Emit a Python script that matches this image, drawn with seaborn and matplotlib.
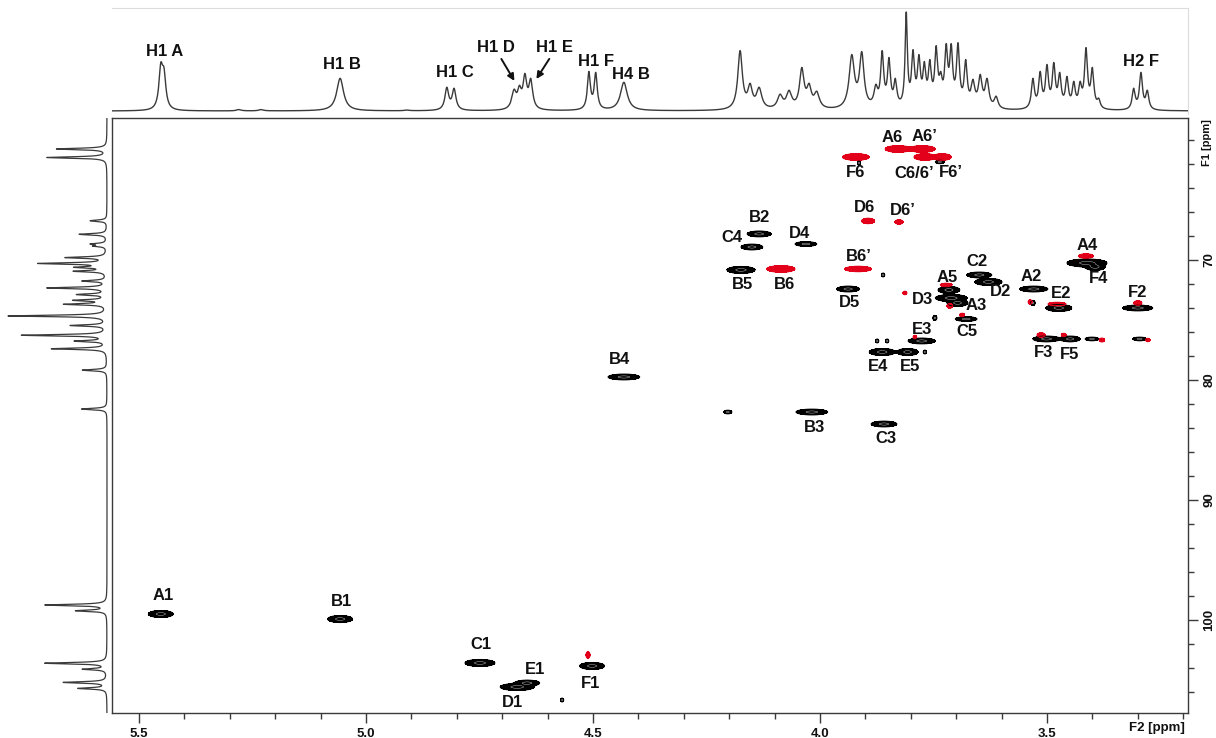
import numpy as np
import pandas as pd
import matplotlib
matplotlib.use("Agg")
import matplotlib.pyplot as plt
from matplotlib.ticker import MultipleLocator, FixedLocator
import seaborn as sns

# ---------------- 2D HSQC cross peaks ----------------
# name ("" = unlabelled), 1H shift, 13C shift, 1H extent, 13C extent, phase (+1 black CH, -1 red CH2)
peak_name = ["A6", "A6’", "F6", "C6/6’", "F6’", "D6", "D6’", "B6’", "B6",
             "", "", "", "", "", "", "", "", "", "", "", "", "", "",
             "A1", "B1", "C1", "E1", "D1", "F1", "B4", "B3", "", "C3", "C4", "B2", "D4", "B5",
             "D5", "C2", "D2", "A5", "D3", "A3", "C5", "A2", "E2", "A4", "F4", "F2", "F3", "F5",
             "", "", "E3", "E4", "E5", "", "", "", "", "", "", "", "", ""]
peak_h = [3.828, 3.775, 3.921, 3.769, 3.731, 3.894, 3.826, 3.916, 4.086,
          3.300, 3.478, 3.414, 3.513, 3.463, 3.379, 3.278, 3.714, 3.722, 3.813, 3.687, 4.511, 3.537, 3.791,
          5.452, 5.057, 4.749, 4.645, 4.667, 4.502, 4.432, 4.018, 4.203, 3.859, 4.150, 4.134, 4.031, 4.174,
          3.938, 3.649, 3.629, 3.716, 3.711, 3.697, 3.678, 3.529, 3.474, 3.412, 3.394, 3.300, 3.501, 3.449,
          3.401, 3.296, 3.776, 3.863, 3.807, 3.861, 3.747, 3.874, 3.852, 3.769, 4.568, 3.531, 3.914, 3.736]
peak_c = [60.75, 60.75, 61.42, 61.42, 61.42, 66.75, 66.83, 70.75, 70.75,
          73.58, 73.67, 69.67, 76.25, 76.25, 76.67, 76.67, 73.83, 72.08, 72.75, 74.58, 102.92, 73.50, 76.42,
          99.50, 99.92, 103.58, 105.25, 105.58, 103.83, 79.75, 82.67, 82.67, 83.67, 68.92, 67.83, 68.67, 70.83,
          72.42, 71.25, 71.83, 72.50, 73.17, 73.58, 74.92, 72.42, 74.00, 70.25, 70.58, 74.00, 76.58, 76.58,
          76.58, 76.58, 76.75, 77.67, 77.67, 71.25, 74.83, 76.75, 76.75, 77.67, 106.67, 73.58, 61.92, 61.83]
peak_wh = [0.057, 0.057, 0.059, 0.048, 0.040, 0.029, 0.018, 0.059, 0.062,
           0.018, 0.040, 0.033, 0.018, 0.011, 0.012, 0.010, 0.013, 0.026, 0.009, 0.011, 0.009, 0.009, 0.008,
           0.055, 0.055, 0.066, 0.055, 0.075, 0.055, 0.070, 0.070, 0.018, 0.057, 0.048, 0.053, 0.048, 0.062,
           0.050, 0.055, 0.060, 0.048, 0.070, 0.046, 0.048, 0.062, 0.057, 0.088, 0.044, 0.066, 0.060, 0.044,
           0.030, 0.030, 0.060, 0.057, 0.046, 0.007, 0.009, 0.007, 0.007, 0.007, 0.007, 0.010, 0.006, 0.020]
peak_wc = [0.55, 0.55, 0.55, 0.55, 0.55, 0.45, 0.36, 0.45, 0.55,
           0.36, 0.28, 0.36, 0.36, 0.28, 0.32, 0.28, 0.36, 0.28, 0.28, 0.28, 0.55, 0.36, 0.28,
           0.58, 0.58, 0.58, 0.48, 0.58, 0.58, 0.48, 0.48, 0.30, 0.48, 0.48, 0.48, 0.38, 0.58,
           0.48, 0.48, 0.58, 0.58, 0.58, 0.58, 0.38, 0.48, 0.58, 0.66, 0.58, 0.48, 0.48, 0.48,
           0.30, 0.30, 0.48, 0.58, 0.58, 0.32, 0.42, 0.32, 0.32, 0.32, 0.32, 0.42, 0.42, 0.28]
peak_phase = [-1] * 23 + [1] * 42

# ---------------- 1H projection (top) ----------------
h1_ppm = [5.452, 5.445, 5.280, 5.231, 5.057, 4.910, 4.822, 4.806, 4.674, 4.662, 4.650, 4.637,
          4.509, 4.494, 4.432, 4.176, 4.154, 4.134, 4.088, 4.068, 4.040, 4.024, 4.007,
          3.930, 3.908, 3.877, 3.863, 3.848, 3.834, 3.810, 3.795, 3.782, 3.770, 3.758, 3.744,
          3.734, 3.722, 3.711, 3.696, 3.679, 3.663, 3.647, 3.632, 3.612, 3.531, 3.515, 3.500,
          3.485, 3.472, 3.456, 3.441, 3.427, 3.414, 3.400, 3.386, 3.309, 3.293, 3.279]
h1_height = [0.49, 0.44, 0.015, 0.015, 0.33, 0.01, 0.24, 0.23, 0.22, 0.26, 0.38, 0.33,
             0.40, 0.39, 0.29, 0.61, 0.28, 0.24, 0.17, 0.21, 0.44, 0.28, 0.20,
             0.57, 0.60, 0.27, 0.61, 0.54, 0.33, 1.00, 0.62, 0.57, 0.50, 0.52, 0.66,
             0.40, 0.68, 0.68, 0.69, 0.52, 0.32, 0.37, 0.33, 0.15, 0.33, 0.40, 0.47,
             0.49, 0.39, 0.35, 0.30, 0.30, 0.64, 0.44, 0.13, 0.23, 0.39, 0.21]
h1_hwhm = [0.005, 0.005, 0.006, 0.006, 0.009, 0.006, 0.005, 0.005, 0.006, 0.005, 0.005, 0.005,
           0.004, 0.004, 0.009, 0.006, 0.006, 0.007, 0.007, 0.007, 0.006, 0.006, 0.007,
           0.007, 0.006, 0.005, 0.004, 0.004, 0.004, 0.003, 0.004, 0.004, 0.004, 0.004, 0.004,
           0.004, 0.004, 0.004, 0.004, 0.004, 0.005, 0.005, 0.005, 0.005, 0.004, 0.004, 0.004,
           0.004, 0.004, 0.004, 0.004, 0.004, 0.004, 0.004, 0.004, 0.004, 0.004, 0.004]

# ---------------- 13C projection (left) ----------------
c13_ppm = [60.75, 61.46, 66.73, 67.86, 68.67, 68.84, 69.80, 70.29, 70.61, 70.94, 71.75, 72.33,
           72.88, 73.36, 73.69, 74.66, 75.46, 76.27, 76.76, 77.40, 79.18, 82.42,
           98.75, 99.23, 103.60, 104.10, 105.20, 105.70]
c13_height = [0.51, 0.61, 0.17, 0.28, 0.15, 0.12, 0.41, 0.68, 0.29, 0.32, 0.24, 0.60,
              0.29, 0.32, 0.42, 1.00, 0.36, 0.86, 0.31, 0.56, 0.25, 0.26,
              0.63, 0.31, 0.63, 0.24, 0.44, 0.29]

top_labels = ["H1 A", "H1 B", "H1 C", "H1 D", "H1 E", "H1 F", "H4 B", "H2 F"]

# ---------------- layout (annotation offsets in pixels) ----------------
label_offset = {
    "A6": (-6, 11), "A6’": (2, 12), "F6": (0, -15), "C6/6’": (-11, -16), "F6’": (9, -15),
    "D6": (-4, 13), "D6’": (4, 11), "B6’": (1, 12), "B6": (4, -16), "B5": (1, -15),
    "C4": (-20, 10), "B2": (0, 16), "D4": (-6, 11), "D5": (1, -13), "C2": (-2, 13),
    "D2": (12, -10), "A5": (-2, 12), "D3": (-29, -1), "A3": (19, -3), "C5": (1, -12),
    "A2": (-3, 13), "E2": (2, 14), "A4": (0, 17), "F4": (3, -12), "F2": (0, 15),
    "F3": (-3, -14), "F5": (-1, -16), "E3": (0, 11), "E4": (-4, -14), "E5": (2, -14),
    "C3": (2, -14), "B3": (3, -15), "B4": (-4, 17), "A1": (2, 18), "B1": (1, 18),
    "C1": (1, 18), "E1": (8, 13), "D1": (-5, -16), "F1": (-2, -18),
}
top_label_pos = {  # (ppm, relative intensity)
    "H1 A": (5.443, 0.60), "H1 B": (5.053, 0.47), "H1 C": (4.804, 0.39), "H1 D": (4.714, 0.64),
    "H1 E": (4.584, 0.64), "H1 F": (4.493, 0.50), "H4 B": (4.416, 0.37), "H2 F": (3.293, 0.50),
}

XL = (5.5595, 3.1894)
YL = (107.75, 58.17)
BLACK = "#000000"
RED = "#e3001b"
LINE = "#3a3a3a"

sns.set_style("white")
plt.rcParams["font.family"] = ["Liberation Sans", "DejaVu Sans"]

W, H = 1216, 738
fig = plt.figure(figsize=(W / 100, H / 100), dpi=100)


def frame(x0, y0, x1, y1):
    return [x0 / W, 1 - y1 / H, (x1 - x0) / W, (y1 - y0) / H]


ax = fig.add_axes(frame(112, 118, 1188, 713))
axt = fig.add_axes(frame(112, 8, 1188, 114))
axl = fig.add_axes(frame(5, 118, 109, 713))

# ---------------- 2D contours ----------------
gx = np.linspace(3.17, 5.57, 2400)
gy = np.linspace(57.5, 108.5, 1100)
Zp = np.zeros((gy.size, gx.size))
Zn = np.zeros((gy.size, gx.size))
thr = 0.08
k = np.sqrt(2 * np.log(1 / thr))
for h, c, wh, wc, ph in zip(peak_h, peak_c, peak_wh, peak_wc, peak_phase):
    sx = wh / 2 / k
    sy = wc / 2 / k
    g = np.outer(np.exp(-0.5 * ((gy - c) / sy) ** 2), np.exp(-0.5 * ((gx - h) / sx) ** 2))
    if ph > 0:
        Zp += g
    else:
        Zn += g

ax.contourf(gx, gy, Zp, levels=[thr, 1e3], colors=[BLACK])
ax.contour(gx, gy, Zp, levels=[thr], colors=[BLACK], linewidths=0.7)
ax.contour(gx, gy, Zp, levels=[0.7], colors=["white"], linewidths=0.25)
ax.contourf(gx, gy, Zn, levels=[thr, 1e3], colors=[RED])
ax.contour(gx, gy, Zn, levels=[thr], colors=[RED], linewidths=0.7)

for name, h, c in zip(peak_name, peak_h, peak_c):
    if name and name in label_offset:
        dx, dy = label_offset[name]
        ax.annotate(name, (h, c), xytext=(dx, dy), textcoords="offset pixels",
                    ha="center", va="center", fontsize=12, fontweight="bold", color="#111111")

ax.set_xlim(*XL)
ax.set_ylim(*YL)
ax.xaxis.set_major_locator(FixedLocator([5.5, 5.0, 4.5, 4.0, 3.5]))
ax.xaxis.set_minor_locator(MultipleLocator(0.1))
ax.set_xticklabels(["5.5", "5.0", "4.5", "4.0", "3.5"], fontsize=9.5, fontweight="bold")
ax.yaxis.tick_right()
ax.yaxis.set_major_locator(FixedLocator([70, 80, 90, 100]))
ax.yaxis.set_minor_locator(MultipleLocator(2))
ax.set_yticklabels(["70", "80", "90", "100"], rotation=90, va="center",
                   fontsize=9.5, fontweight="bold")
ax.tick_params(axis="both", which="major", direction="out", length=7, width=1.0,
               color=LINE, pad=4, labelcolor="#111111")
ax.tick_params(axis="both", which="minor", direction="out", length=4, width=1.0, color=LINE)
ax.tick_params(axis="y", which="both", left=False, right=True, labelleft=False, labelright=True)
ax.tick_params(axis="x", which="both", bottom=True, top=False)
for s in ax.spines.values():
    s.set_color(LINE)
    s.set_linewidth(1.0)

fig.text(1157 / W, 1 - 728 / H, "F2 [ppm]", ha="center", va="center",
         fontsize=9.5, fontweight="bold", color="#111111")
fig.text(1207 / W, 1 - 143 / H, "F1 [ppm]", ha="center", va="center", rotation=90,
         fontsize=8, fontweight="bold", color="#111111")

# ---------------- 1H projection ----------------
hx = np.linspace(XL[1], XL[0], 9000)
c1 = np.array(h1_ppm)
w1 = np.array(h1_hwhm)
t1 = np.array(h1_height)
A = 1.0 / (1.0 + ((c1[:, None] - c1[None, :]) / w1[None, :]) ** 2)
amp = t1.copy()
for _ in range(400):
    amp = np.clip(amp + 0.5 * (t1 - A @ amp), 0, None)
trace_h = (amp[None, :] / (1.0 + ((hx[:, None] - c1[None, :]) / w1[None, :]) ** 2)).sum(axis=1)
trace_h /= trace_h.max()
df_h = pd.DataFrame({"ppm": hx, "intensity": trace_h})
sns.lineplot(data=df_h, x="ppm", y="intensity", ax=axt, color=LINE, linewidth=1.0,
             estimator=None, sort=False)
axt.set_xlim(*XL)
axt.set_ylim(-0.03, 1.04)
axt.set_xticks([])
axt.set_yticks([])
axt.set_xlabel("")
axt.set_ylabel("")
for side in ["left", "bottom"]:
    axt.spines[side].set_visible(False)
for side in ["top", "right"]:
    axt.spines[side].set_color("#dcdcdc")
    axt.spines[side].set_linewidth(0.8)
for lab in top_labels:
    px, py = top_label_pos[lab]
    axt.text(px, py, lab, ha="center", va="center", fontsize=12, fontweight="bold", color="#111111")
axt.annotate("", xy=(4.670, 0.28), xytext=(4.705, 0.55),
             arrowprops=dict(arrowstyle="-|>", color="#111111", lw=1.4, mutation_scale=10))
axt.annotate("", xy=(4.628, 0.30), xytext=(4.593, 0.55),
             arrowprops=dict(arrowstyle="-|>", color="#111111", lw=1.4, mutation_scale=10))

# ---------------- 13C projection ----------------
cy = np.linspace(YL[1], YL[0], 7000)
c2 = np.array(c13_ppm)
t2 = np.array(c13_height)
w2 = 0.07
trace_c = (t2[None, :] / (1.0 + ((cy[:, None] - c2[None, :]) / w2) ** 2)).sum(axis=1)
trace_c /= trace_c.max()
df_c = pd.DataFrame({"ppm": cy, "intensity": trace_c})
sns.lineplot(data=df_c, x="intensity", y="ppm", orient="y", ax=axl, color=LINE,
             linewidth=0.9, estimator=None, sort=False)
axl.set_ylim(*YL)
axl.set_xlim(1.03, -0.02)
axl.set_xticks([])
axl.set_yticks([])
axl.set_xlabel("")
axl.set_ylabel("")
for s in axl.spines.values():
    s.set_visible(False)

fig.savefig("out.png", dpi=100)
